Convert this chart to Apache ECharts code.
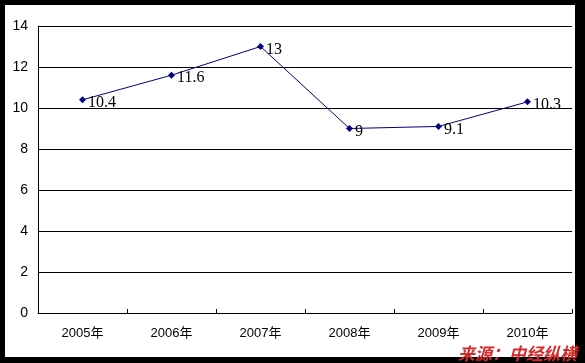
<!DOCTYPE html>
<html><head><meta charset="utf-8">
<script src="https://cdn.jsdelivr.net/npm/echarts@6/dist/echarts.min.js"></script>
<style>html,body{margin:0;padding:0;background:#000;}#c{width:585px;height:363px;}</style>
</head><body><div id="c"></div>
<script>
const categories = ['2005年','2006年','2007年','2008年','2009年','2010年'];
const values = [10.4, 11.6, 13, 9, 9.1, 10.3];
const yTicks = {min: 0, max: 14, interval: 2};
const sourceText = '来源：中经纵横';

const chart = echarts.init(document.getElementById('c'), null, {renderer: 'canvas'});
chart.setOption({
  backgroundColor: '#000',
  animation: false,
  graphic: [
    {type: 'rect', left: 5, top: 5, shape: {width: 570, height: 352}, style: {fill: '#fff'}, z: -10},
    {type: 'text', right: 8, bottom: 1, style: {text: sourceText, fill: '#d42a2a', font: 'italic bold 17px "Noto Sans CJK SC"'}, z: 100}
  ],
  grid: {left: 38, right: 13, top: 26, bottom: 50},
  xAxis: {
    type: 'category', data: categories, boundaryGap: true,
    axisLine: {lineStyle: {color: '#000', width: 1}},
    axisTick: {show: true, inside: true, length: 4, alignWithLabel: false, lineStyle: {color: '#000'}},
    axisLabel: {color: '#000', fontSize: 13, margin: 14, fontFamily: '"Liberation Sans", "Noto Sans CJK SC"'},
    splitLine: {show: false}
  },
  yAxis: {
    type: 'value', min: yTicks.min, max: yTicks.max, interval: yTicks.interval,
    axisLine: {show: true, lineStyle: {color: '#000', width: 1}},
    axisTick: {show: false},
    axisLabel: {color: '#000', fontSize: 14, margin: 10, fontFamily: '"Liberation Sans"'},
    splitLine: {show: true, lineStyle: {color: '#000', width: 1}}
  },
  series: [{
    type: 'line', data: values,
    symbol: 'diamond', symbolSize: 7,
    itemStyle: {color: '#000080'},
    lineStyle: {color: '#000080', width: 1},
    label: {show: true, position: 'right', distance: 2, offset: [0, 3], color: '#000', fontSize: 16, fontFamily: '"Liberation Serif"'}
  }]
});
</script></body></html>
